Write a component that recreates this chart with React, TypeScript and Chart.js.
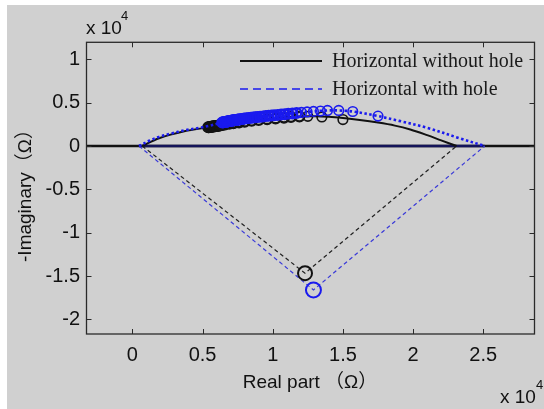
import React, { useEffect, useRef } from 'react';
import { Chart, registerables } from 'chart.js';

Chart.register(...registerables);

// ---- Data (units of 1e4 Ω) ----
const xTicks = [0, 0.5, 1, 1.5, 2, 2.5];
const yTicks = [1, 0.5, 0, -0.5, -1, -1.5, -2];
const legendLabels = ['Horizontal without hole', 'Horizontal with hole'];
const xTitle = 'Real part （Ω）';
const yTitle = '-Imaginary（Ω）';

const blackArcX = [0.07, 0.19, 0.37, 0.54, 0.64, 0.8, 1.0, 1.19, 1.3, 1.4, 1.5, 1.62, 1.75, 1.87, 1.98, 2.1, 2.2, 2.31];
const blackArcY = [0, 0.09, 0.17, 0.215, 0.242, 0.28, 0.315, 0.34, 0.342, 0.336, 0.322, 0.3, 0.27, 0.235, 0.19, 0.125, 0.065, 0];

const blueArcX = [0.047, 0.12, 0.19, 0.28, 0.37, 0.46, 0.54, 0.64, 0.75, 0.89, 1.01, 1.17, 1.29, 1.39, 1.47, 1.57, 1.75, 1.9, 2.1, 2.33, 2.51];
const blueArcY = [0, 0.06, 0.105, 0.145, 0.18, 0.205, 0.23, 0.272, 0.304, 0.334, 0.355, 0.385, 0.4, 0.41, 0.41, 0.398, 0.345, 0.29, 0.21, 0.09, 0];

const blackMarkX = [0.54, 0.545, 0.55, 0.555, 0.56, 0.565, 0.57, 0.575, 0.58, 0.585, 0.59, 0.595, 0.6, 0.605, 0.61, 0.615, 0.62, 0.625, 0.63, 0.64, 0.66, 0.69, 0.72, 0.76, 0.8, 0.85, 0.9, 0.96, 1.02, 1.08, 1.13, 1.19, 1.25, 1.35, 1.5];
const blackMarkY = [0.215, 0.217, 0.218, 0.22, 0.221, 0.223, 0.224, 0.225, 0.227, 0.228, 0.229, 0.231, 0.232, 0.233, 0.235, 0.236, 0.237, 0.238, 0.239, 0.242, 0.248, 0.256, 0.263, 0.272, 0.28, 0.29, 0.299, 0.309, 0.318, 0.327, 0.334, 0.34, 0.342, 0.335, 0.305];

const blueMarkX = [0.64, 0.645, 0.65, 0.655, 0.66, 0.665, 0.67, 0.675, 0.68, 0.685, 0.69, 0.695, 0.7, 0.705, 0.71, 0.715, 0.72, 0.725, 0.73, 0.735, 0.74, 0.745, 0.75, 0.755, 0.76, 0.77, 0.78, 0.79, 0.8, 0.815, 0.83, 0.845, 0.86, 0.875, 0.89, 0.91, 0.93, 0.95, 0.97, 0.99, 1.01, 1.035, 1.06, 1.085, 1.11, 1.14, 1.17, 1.205, 1.245, 1.29, 1.34, 1.39, 1.47, 1.57, 1.75];
const blueMarkY = [0.272, 0.274, 0.275, 0.277, 0.278, 0.28, 0.281, 0.283, 0.284, 0.286, 0.287, 0.289, 0.29, 0.292, 0.293, 0.295, 0.296, 0.297, 0.299, 0.3, 0.301, 0.303, 0.304, 0.305, 0.306, 0.309, 0.311, 0.313, 0.316, 0.319, 0.322, 0.325, 0.328, 0.331, 0.334, 0.338, 0.341, 0.345, 0.348, 0.351, 0.355, 0.359, 0.363, 0.367, 0.371, 0.376, 0.381, 0.387, 0.393, 0.399, 0.404, 0.41, 0.41, 0.398, 0.345];

const blackVX = [0.07, 1.23, 2.31];
const blackVY = [0, -1.467, 0];
const blueVX = [0.047, 1.29, 2.51];
const blueVY = [0, -1.66, 0];

const zeroBlackX = [-0.4, 3.0];
const zeroBlueX = [0.047, 2.51];
const zeroY = [0, 0];

const X_MIN = -0.327;
const X_MAX = 2.865;
const Y_MIN = -2.168;
const Y_MAX = 1.196;

const BLUE = '#1a1aee';
const BLACK = '#111111';

const pts = (xs: number[], ys: number[]) => xs.map((x, i) => ({ x, y: ys[i] }));

const fmt = (v: number) => String(Math.round(v * 10) / 10);

const decorPlugin = {
  id: 'decor',
  beforeDraw(chart: any) {
    const ctx = chart.ctx;
    ctx.save();
    ctx.fillStyle = '#ffffff';
    ctx.fillRect(0, 0, chart.width, chart.height);
    ctx.fillStyle = '#d0d0d0';
    ctx.fillRect(7, 5, chart.width - 7, chart.height - 5);
    ctx.restore();
  },
  afterDraw(chart: any) {
    const ctx = chart.ctx;
    const a = chart.chartArea;
    const xs = chart.scales.x;
    const ys = chart.scales.y;
    ctx.save();
    // box
    ctx.strokeStyle = '#2a2a2a';
    ctx.lineWidth = 1.3;
    ctx.strokeRect(a.left, a.top, a.right - a.left, a.bottom - a.top);
    // inward ticks
    ctx.lineWidth = 1;
    const tl = 5;
    ctx.beginPath();
    xTicks.forEach((v) => {
      const px = Math.round(xs.getPixelForValue(v)) + 0.5;
      ctx.moveTo(px, a.bottom);
      ctx.lineTo(px, a.bottom - tl);
      ctx.moveTo(px, a.top);
      ctx.lineTo(px, a.top + tl);
    });
    yTicks.forEach((v) => {
      const py = Math.round(ys.getPixelForValue(v)) + 0.5;
      ctx.moveTo(a.left, py);
      ctx.lineTo(a.left + tl, py);
      ctx.moveTo(a.right, py);
      ctx.lineTo(a.right - tl, py);
    });
    ctx.stroke();

    // axis titles
    ctx.fillStyle = BLACK;
    ctx.font = '19px "Liberation Sans", "Noto Sans CJK SC", sans-serif';
    ctx.textAlign = 'center';
    ctx.textBaseline = 'middle';
    ctx.fillText(xTitle, 310, 383);
    ctx.save();
    ctx.translate(26, 191);
    ctx.rotate(-Math.PI / 2);
    ctx.fillText(yTitle, 0, 0);
    ctx.restore();

    // exponent labels
    ctx.textAlign = 'left';
    ctx.textBaseline = 'alphabetic';
    ctx.font = '19px "Liberation Sans", sans-serif';
    ctx.fillText('x 10', 86, 34);
    ctx.fillText('x 10', 500, 403);
    ctx.font = '13px "Liberation Sans", sans-serif';
    ctx.fillText('4', 121, 20);
    ctx.fillText('4', 536, 389);

    // legend
    const lx0 = 240;
    const lx1 = 322;
    const ly = [61, 89];
    ctx.lineWidth = 2;
    ctx.strokeStyle = BLACK;
    ctx.setLineDash([]);
    ctx.beginPath();
    ctx.moveTo(lx0, ly[0]);
    ctx.lineTo(lx1, ly[0]);
    ctx.stroke();
    ctx.strokeStyle = BLUE;
    ctx.lineWidth = 1.6;
    ctx.setLineDash([8, 5]);
    ctx.beginPath();
    ctx.moveTo(lx0, ly[1]);
    ctx.lineTo(lx1, ly[1]);
    ctx.stroke();
    ctx.setLineDash([]);
    ctx.fillStyle = '#1a1a1a';
    ctx.font = '20px "Liberation Serif", "Times New Roman", serif';
    ctx.textBaseline = 'middle';
    legendLabels.forEach((t, i) => ctx.fillText(t, 332, ly[i] + 1));
    ctx.restore();
  },
};

export default function App() {
  const ref = useRef<HTMLCanvasElement | null>(null);
  useEffect(() => {
    if (!ref.current) return;
    const lineDs = (data: any, color: string, width: number, dash: number[], order: number, tension = 0) => ({
      data,
      showLine: true,
      borderColor: color,
      borderWidth: width,
      borderDash: dash,
      pointRadius: 0,
      pointHoverRadius: 0,
      tension,
      fill: false,
      order,
    });
    const markDs = (data: any, color: string, r: number, bw: any, order: number) => ({
      data,
      showLine: false,
      borderColor: color,
      backgroundColor: 'rgba(0,0,0,0)',
      pointBorderColor: color,
      pointBackgroundColor: 'rgba(0,0,0,0)',
      pointRadius: r,
      pointBorderWidth: bw,
      order,
    });
    const denseWidth = (ctx: any) => {
      const p = ctx.raw;
      return p && p.x < 1.2 ? 2.4 : 1.6;
    };
    const chart = new Chart(ref.current, {
      type: 'scatter',
      data: {
        datasets: [
          markDs(pts(blueMarkX, blueMarkY), BLUE, 4.8, denseWidth, 1),
          lineDs(pts(blueArcX, blueArcY), BLUE, 2.6, [2.5, 2.5], 2, 0.35),
          markDs(pts(blackMarkX, blackMarkY), '#141414', 4.8, denseWidth, 3),
          lineDs(pts(blackArcX, blackArcY), BLACK, 2, [], 4, 0.35),
          markDs([{ x: blackVX[1], y: blackVY[1] }], '#111111', 7, 2, 5),
          markDs([{ x: blueVX[1], y: blueVY[1] }], BLUE, 7.5, 2, 5),
          lineDs(pts(blueVX, blueVY), '#3a3ad8', 1.2, [4, 3], 6),
          lineDs(pts(blackVX, blackVY), '#222222', 1.2, [4, 3], 7),
          lineDs(pts(zeroBlueX, zeroY), '#14145a', 2.5, [], 8),
          lineDs(pts(zeroBlackX, zeroY), BLACK, 2.5, [], 9),
        ] as any,
      },
      options: {
        animation: false,
        responsive: false,
        devicePixelRatio: 1,
        layout: { padding: { top: 42.3, right: 1, bottom: 0, left: 0 } },
        plugins: { legend: { display: false }, tooltip: { enabled: false } },
        events: [],
        scales: {
          x: {
            type: 'linear',
            min: X_MIN,
            max: X_MAX,
            grid: { display: false, drawTicks: false },
            border: { display: false },
            afterBuildTicks: (s: any) => {
              s.ticks = xTicks.map((v) => ({ value: v }));
            },
            afterFit: (s: any) => {
              s.height = 75;
            },
            ticks: {
              padding: 9,
              color: BLACK,
              autoSkip: false,
              maxRotation: 0,
              font: { family: '"Liberation Sans", Arial, sans-serif', size: 20 },
              callback: (v: any) => fmt(Number(v)),
            },
          },
          y: {
            type: 'linear',
            min: Y_MIN,
            max: Y_MAX,
            grid: { display: false, drawTicks: false },
            border: { display: false },
            afterBuildTicks: (s: any) => {
              s.ticks = yTicks.map((v) => ({ value: v }));
            },
            afterFit: (s: any) => {
              s.width = 86.5;
            },
            ticks: {
              padding: 6.5,
              color: BLACK,
              autoSkip: false,
              font: { family: '"Liberation Sans", Arial, sans-serif', size: 20 },
              callback: (v: any) => fmt(Number(v)),
            },
          },
        },
      },
      plugins: [decorPlugin],
    } as any);
    return () => chart.destroy();
  }, []);
  return (
    <div style={{ position: 'fixed', left: 0, top: 0, width: 544, height: 409 }}>
      <canvas ref={ref} width={544} height={409} style={{ display: 'block' }} />
    </div>
  );
}
